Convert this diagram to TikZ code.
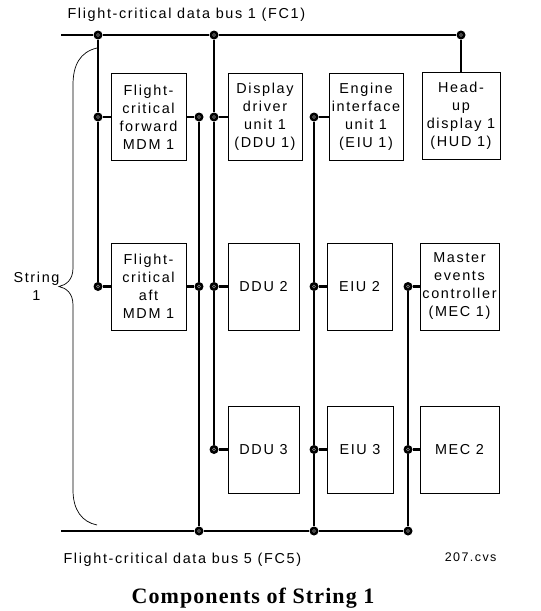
\documentclass[tikz,border=0pt]{standalone}
\usepackage{fontspec}
\newfontfamily\labfont{Liberation Sans}[LetterSpace=11.5]
\newfontfamily\capfont{Liberation Serif}[LetterSpace=5]
\usetikzlibrary{positioning}

\begin{document}
\begin{tikzpicture}[
  x=1pt, y=-1pt,
  unit/.style={draw, line width=0.8pt, align=center, inner sep=0pt, minimum height=87pt,
    font=\labfont\fontsize{14.4}{18}\selectfont},
  wire/.style={line width=2.4pt},
  tap/.style={circle, fill=black, minimum size=9pt, inner sep=0pt,
    path picture={\draw[black!45, line width=0.6pt] (path picture bounding box.center) circle (1.5pt);}},
  lbl/.style={font=\labfont\fontsize{14.4}{18}\selectfont}
]
\useasboundingbox (0,0) rectangle (541,611);
% units, three rows
\node[unit, minimum width=75pt] (mdmf) at (148.5,117) {Flight-\\critical\\forward\\MDM 1};
\node[unit, minimum width=74pt] (ddu1) at (265,117) {Display\\driver\\unit 1\\(DDU 1)};
\node[unit, minimum width=74pt] (eiu1) at (366,117) {Engine\\interface\\unit 1\\(EIU 1)};
\node[unit, minimum width=78pt] (hud1) at (461,116) {Head-\\up\\display 1\\(HUD 1)};
\node[unit, minimum width=75pt] (mdma) at (148.5,286.5) {Flight-\\critical\\aft\\MDM 1};
\node[unit, minimum width=71pt] (ddu2) at (263.5,286.5) {DDU 2};
\node[unit, minimum width=65pt] (eiu2) at (359.5,286.5) {EIU 2};
\node[unit, minimum width=79pt] (mec1) at (459.5,286.5) {Master\\events\\controller\\(MEC 1)};
\node[unit, minimum width=71pt] (ddu3) at (263.5,449.5) {DDU 3};
\node[unit, minimum width=66pt] (eiu3) at (360,449.5) {EIU 3};
\node[unit, minimum width=79pt] (mec2) at (459.5,449.5) {MEC 2};
% bus taps
\coordinate (fc1w) at (61,35);
\coordinate (fc5w) at (61,531);
\node[tap] (t1) at (98,35) {};
\node[tap] (t2) at (214,35) {};
\node[tap] (t3) at (461,35) {};
\node[tap] (a1) at (98,117) {};
\node[tap] (a2) at (98,286.5) {};
\node[tap] (c1) at (199,117) {};
\node[tap] (c2) at (199,286.5) {};
\node[tap] (c3) at (199,531) {};
\node[tap] (d1) at (214,117) {};
\node[tap] (d2) at (214,286.5) {};
\node[tap] (d3) at (214,449.5) {};
\node[tap] (e1) at (314,117) {};
\node[tap] (e2) at (314,286.5) {};
\node[tap] (e3) at (314,449.5) {};
\node[tap] (e4) at (314,531) {};
\node[tap] (m1) at (408,286.5) {};
\node[tap] (m2) at (408,449.5) {};
\node[tap] (m3) at (408,531) {};
% buses and drops
\draw[wire] (fc1w) -- (t1) -- (t2) -- (t3);
\draw[wire] (fc5w) -- (c3) -- (e4) -- (m3);
\draw[wire] (t1) -- (a1) -- (a2);
\draw[wire] (c1) -- (c2) -- (c3);
\draw[wire] (t2) -- (d1) -- (d2) -- (d3);
\draw[wire] (e1) -- (e2) -- (e3) -- (e4);
\draw[wire] (m1) -- (m2) -- (m3);
\draw[wire] (t3) -- (hud1.north);
% stubs into the units
\draw[wire] (a1) -- (mdmf.west);
\draw[wire] (mdmf.east) -- (c1);
\draw[wire] (a2) -- (mdma.west);
\draw[wire] (mdma.east) -- (c2);
\draw[wire] (d1) -- (ddu1.west);
\draw[wire] (d2) -- (ddu2.west);
\draw[wire] (d3) -- (ddu3.west);
\draw[wire] (e1) -- (eiu1.west);
\draw[wire] (e2) -- (eiu2.west);
\draw[wire] (e3) -- (eiu3.west);
\draw[wire] (m1) -- (mec1.west);
\draw[wire] (m2) -- (mec2.west);
% brace round the string
\draw[line width=0.7pt] (97,48) .. controls (80,52) and (73,65) .. (73,85) -- (73,268)
  .. controls (73,280) and (66,285) .. (59,286.5) .. controls (66,288) and (73,293) .. (73,305)
  -- (73,490) .. controls (73,510) and (82,522) .. (97,525);
\node[lbl, align=center] (str) at (36.5,286.5) {String\\1};
% labels
\node[lbl, anchor=base west] (fc1) at (64,18) {Flight-critical data bus 1 (FC1)};
\node[lbl, anchor=base west] (fc5) at (60,563) {Flight-critical data bus 5 (FC5)};
\node[font=\labfont\fontsize{12.5}{15}\selectfont, anchor=base east] (code) at (500,561) {207.cvs};
\node[font=\capfont\bfseries\fontsize{22}{26}\selectfont, anchor=base] (title) at (253,603) {Components of String 1};
\end{tikzpicture}
\end{document}
